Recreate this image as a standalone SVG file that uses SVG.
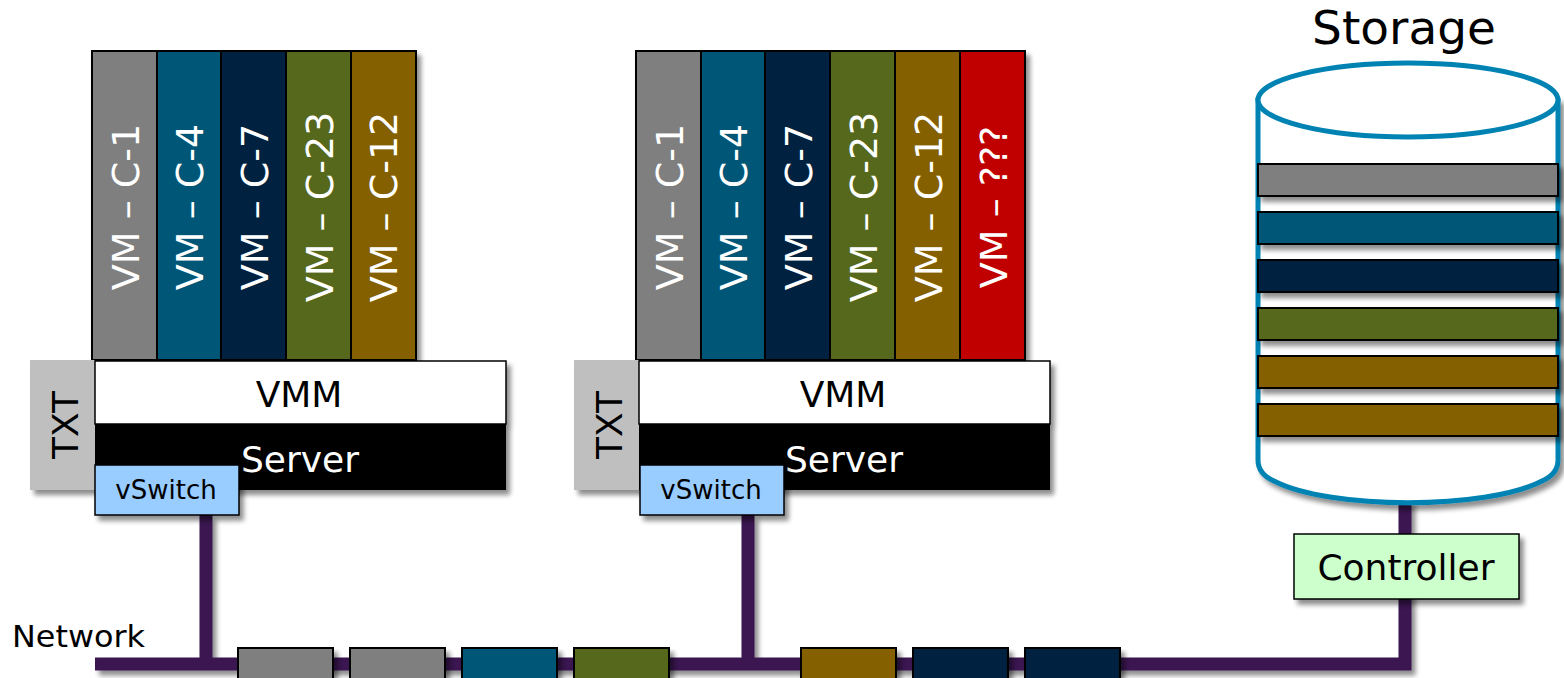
<svg xmlns="http://www.w3.org/2000/svg" width="1564" height="678" viewBox="0 0 1564 678">
  <defs>
    <filter id="shadow" x="-10%" y="-10%" width="130%" height="140%">
      <feGaussianBlur in="SourceAlpha" stdDeviation="2.5"/>
      <feOffset dx="4" dy="5" result="b"/>
      <feComponentTransfer><feFuncA type="linear" slope="0.45"/></feComponentTransfer>
      <feMerge><feMergeNode/><feMergeNode in="SourceGraphic"/></feMerge>
    </filter>
  </defs>
  <style>
    text { font-family: "DejaVu Sans", Verdana, sans-serif; }
    .vm { stroke: #000; stroke-width: 2; }
    .vmt { fill: #fff; font-size: 38px; text-anchor: middle; }
    .c1 { fill: #7f7f7f; } .c4 { fill: #005677; } .c7 { fill: #00203f; }
    .c23 { fill: #56681c; } .c12 { fill: #846100; } .cx { fill: #c00000; }
    .txt { fill: #bfbfbf; }
    .vmm { fill: #fff; stroke: #000; stroke-width: 1.5; }
    .srv { fill: #000; }
    .vsw { fill: #99ccff; stroke: #000; stroke-width: 1.5; }
    .ctl { fill: #ccffcc; stroke: #000; stroke-width: 1.5; }
    .lbl { fill: #000; font-size: 36px; text-anchor: middle; }
    .wire { fill: none; stroke: #3a1951; stroke-width: 13; }
    .pkt { stroke: #000; stroke-width: 2; }
  </style>

  <!-- network wiring -->
  <g id="connectors" filter="url(#shadow)">
    <path class="wire" d="M95,664 H1405 V500"/>
    <path class="wire" d="M206,515 V664"/>
    <path class="wire" d="M748,515 V664"/>
  </g>

  <!-- packets travelling on the network -->
  <g id="packets" filter="url(#shadow)">
    <rect class="pkt c1" x="238" y="648" width="95" height="40"/>
    <rect class="pkt c1" x="350" y="648" width="95" height="40"/>
    <rect class="pkt c4" x="462" y="648" width="95" height="40"/>
    <rect class="pkt c23" x="574" y="648" width="95" height="40"/>
    <rect class="pkt c12" x="801" y="648" width="95" height="40"/>
    <rect class="pkt c7" x="913" y="648" width="95" height="40"/>
    <rect class="pkt c7" x="1025" y="648" width="95" height="40"/>
  </g>

  <text x="12" y="647" font-size="30" fill="#000" textLength="133" lengthAdjust="spacingAndGlyphs">Network</text>

  <!-- host 1 -->
  <g id="host1">
    <g filter="url(#shadow)">
      <rect class="vm c1" x="92" y="51" width="65" height="309"/>
      <rect class="vm c4" x="157" y="51" width="64" height="309"/>
      <rect class="vm c7" x="221" y="51" width="65" height="309"/>
      <rect class="vm c23" x="286" y="51" width="65" height="309"/>
      <rect class="vm c12" x="351" y="51" width="65" height="309"/>
    </g>
    <text class="vmt" transform="translate(139,207) rotate(-90)">VM – C-1</text>
    <text class="vmt" transform="translate(203,207) rotate(-90)">VM – C-4</text>
    <text class="vmt" transform="translate(268,207) rotate(-90)">VM – C-7</text>
    <text class="vmt" transform="translate(333,207) rotate(-90)">VM – C-23</text>
    <text class="vmt" transform="translate(397,207) rotate(-90)">VM – C-12</text>
    <g filter="url(#shadow)">
      <rect class="txt" x="30" y="360" width="65" height="130"/>
      <rect class="srv" x="95" y="424" width="411" height="66"/>
      <rect class="vmm" x="95" y="361" width="411" height="63"/>
    </g>
    <text x="78" y="425" font-size="36" text-anchor="middle" transform="rotate(-90 78 425)" fill="#000">TXT</text>
    <text class="lbl" x="299" y="407">VMM</text>
    <text class="lbl" x="300" y="472" style="fill:#fff">Server</text>
    <g id="vswitch1" filter="url(#shadow)">
      <rect class="vsw" x="95" y="465" width="144" height="50"/>
    </g>
    <text x="166" y="499" font-size="26" text-anchor="middle" fill="#000">vSwitch</text>
  </g>

  <!-- host 2 -->
  <g id="host2">
    <g filter="url(#shadow)">
      <rect class="vm c1" x="636" y="51" width="65" height="309"/>
      <rect class="vm c4" x="701" y="51" width="64" height="309"/>
      <rect class="vm c7" x="765" y="51" width="65" height="309"/>
      <rect class="vm c23" x="830" y="51" width="65" height="309"/>
      <rect class="vm c12" x="895" y="51" width="65" height="309"/>
      <rect class="vm cx" x="960" y="51" width="65" height="309"/>
    </g>
    <text class="vmt" transform="translate(683,207) rotate(-90)">VM – C-1</text>
    <text class="vmt" transform="translate(747,207) rotate(-90)">VM – C-4</text>
    <text class="vmt" transform="translate(812,207) rotate(-90)">VM – C-7</text>
    <text class="vmt" transform="translate(877,207) rotate(-90)">VM – C-23</text>
    <text class="vmt" transform="translate(942,207) rotate(-90)">VM – C-12</text>
    <text class="vmt" transform="translate(1007,207) rotate(-90)">VM – ???</text>
    <g filter="url(#shadow)">
      <rect class="txt" x="574" y="360" width="65" height="130"/>
      <rect class="srv" x="639" y="424" width="411" height="66"/>
      <rect class="vmm" x="639" y="361" width="411" height="63"/>
    </g>
    <text x="622" y="425" font-size="36" text-anchor="middle" transform="rotate(-90 622 425)" fill="#000">TXT</text>
    <text class="lbl" x="843" y="407">VMM</text>
    <text class="lbl" x="844" y="472" style="fill:#fff">Server</text>
    <g id="vswitch2" filter="url(#shadow)">
      <rect class="vsw" x="640" y="465" width="144" height="50"/>
    </g>
    <text x="711" y="499" font-size="26" text-anchor="middle" fill="#000">vSwitch</text>
  </g>

  <!-- storage array -->
  <g id="storage">
    <text x="1404" y="44" font-size="47" text-anchor="middle" fill="#000">Storage</text>
    <g filter="url(#shadow)">
      <path d="M1258,100 V460 Q1258,474 1274,481 C1330,510 1486,510 1542,481 Q1558,474 1558,460 V100 Z" fill="#fff" stroke="#0083b3" stroke-width="5"/>
    </g>
    <ellipse cx="1408" cy="100" rx="150" ry="37" fill="#fff" stroke="#0083b3" stroke-width="5"/>
    <g filter="url(#shadow)">
      <rect class="pkt c1" x="1258" y="164" width="300" height="32"/>
      <rect class="pkt c4" x="1258" y="212" width="300" height="32"/>
      <rect class="pkt c7" x="1258" y="260" width="300" height="32"/>
      <rect class="pkt c23" x="1258" y="308" width="300" height="32"/>
      <rect class="pkt c12" x="1258" y="356" width="300" height="32"/>
      <rect class="pkt c12" x="1258" y="404" width="300" height="32"/>
    </g>
  </g>

  <!-- storage controller -->
  <g id="controller">
    <g filter="url(#shadow)">
      <rect class="ctl" x="1294" y="534" width="225" height="65"/>
    </g>
    <text class="lbl" x="1406" y="580">Controller</text>
  </g>
</svg>
